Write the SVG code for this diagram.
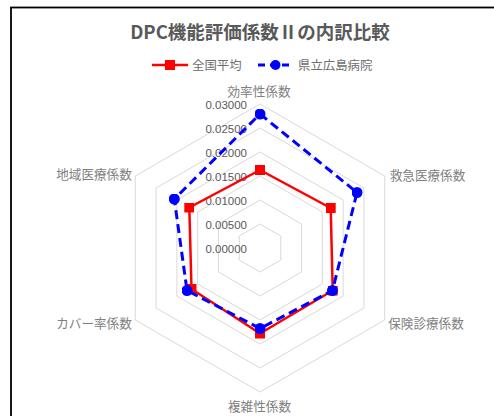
<svg xmlns="http://www.w3.org/2000/svg" width="494" height="416" viewBox="0 0 494 416">
<style>
.grid{fill:none;stroke:#d9d9d9;stroke-width:1}
.t{font-family:"Noto Sans CJK JP","Noto Sans",sans-serif;fill:#595959}
.ax{font-size:12.6px;text-anchor:middle;fill:#808080}
.lg{font-size:12.4px;fill:#6e6e6e}
.val{font-family:"Liberation Sans","Noto Sans",sans-serif;font-size:11.5px;fill:#595959;text-anchor:end}
.red{fill:none;stroke:#ff0000;stroke-width:2.5;stroke-linejoin:round}
.blue{fill:none;stroke:#0000ff;stroke-width:3;stroke-dasharray:9 5;stroke-linejoin:round}
</style>
<defs>
<marker id="sq" viewBox="0 0 10 10" refX="5" refY="5" markerWidth="10" markerHeight="10" markerUnits="userSpaceOnUse"><rect x="0" y="0" width="10" height="10" fill="#ff0000"/></marker>
<marker id="ci" viewBox="0 0 10 10" refX="5" refY="5" markerWidth="11" markerHeight="11" markerUnits="userSpaceOnUse"><circle cx="5" cy="5" r="5" fill="#0000ff"/></marker>
</defs>
<rect x="0" y="0" width="494" height="416" fill="#ffffff"/>
<rect x="11" y="7.5" width="500" height="420" fill="#ffffff" stroke="#000000" stroke-width="1.8"/>
<g id="title"><text class="t" x="260" y="38.5" font-size="18.5" font-weight="bold" text-anchor="middle">DPC機能評価係数Ⅱの内訳比較</text></g>
<g id="legend">
<line x1="152" y1="65" x2="188" y2="65" stroke="#ff0000" stroke-width="2.5"/>
<rect x="165" y="60" width="10" height="10" fill="#ff0000"/>
<text class="t lg" x="192" y="69.5">全国平均</text>
<line x1="258" y1="65" x2="294" y2="65" stroke="#0000ff" stroke-width="3" stroke-dasharray="7 5"/>
<circle cx="275.5" cy="65" r="5" fill="#0000ff"/>
<text class="t lg" x="298" y="69.5">県立広島病院</text>
</g>
<g id="grid">
<polygon class="grid" points="260,224 280.78,236 280.78,260 260,272 239.22,260 239.22,236"/>
<polygon class="grid" points="260,200 301.57,224 301.57,272 260,296 218.43,272 218.43,224"/>
<polygon class="grid" points="260,176 322.35,212 322.35,284 260,320 197.65,284 197.65,212"/>
<polygon class="grid" points="260,152 343.14,200 343.14,296 260,344 176.86,296 176.86,200"/>
<polygon class="grid" points="260,128 363.92,188 363.92,308 260,368 156.08,308 156.08,188"/>
<polygon class="grid" points="260,104 384.71,176 384.71,320 260,392 135.29,320 135.29,176"/>
</g>
<g id="axis-values">
<text class="val" x="247" y="109">0.03000</text>
<text class="val" x="247" y="133">0.02500</text>
<text class="val" x="247" y="157">0.02000</text>
<text class="val" x="247" y="181">0.01500</text>
<text class="val" x="247" y="205">0.01000</text>
<text class="val" x="247" y="229">0.00500</text>
<text class="val" x="247" y="253">0.00000</text>
</g>
<g id="axis-labels">
<text class="t ax" x="259" y="95.5">効率性係数</text>
<text class="t ax" x="427.5" y="179.5">救急医療係数</text>
<text class="t ax" x="426" y="327.5">保険診療係数</text>
<text class="t ax" x="259.5" y="410.5">複雑性係数</text>
<text class="t ax" x="94" y="327.5">カバー率係数</text>
<text class="t ax" x="94" y="179">地域医療係数</text>
</g>
<g id="connectors">
<polygon id="series-national" class="red" points="260,170 330.7,208 332.7,290.5 260,333.5 191.5,289 189.3,207.5" marker-start="url(#sq)" marker-mid="url(#sq)"/>
<polygon id="series-hiroshima" class="blue" points="260,114 357,192.5 332.5,290.5 260,328.5 187,290.5 174.3,199" marker-start="url(#ci)" marker-mid="url(#ci)"/>
</g>
</svg>
